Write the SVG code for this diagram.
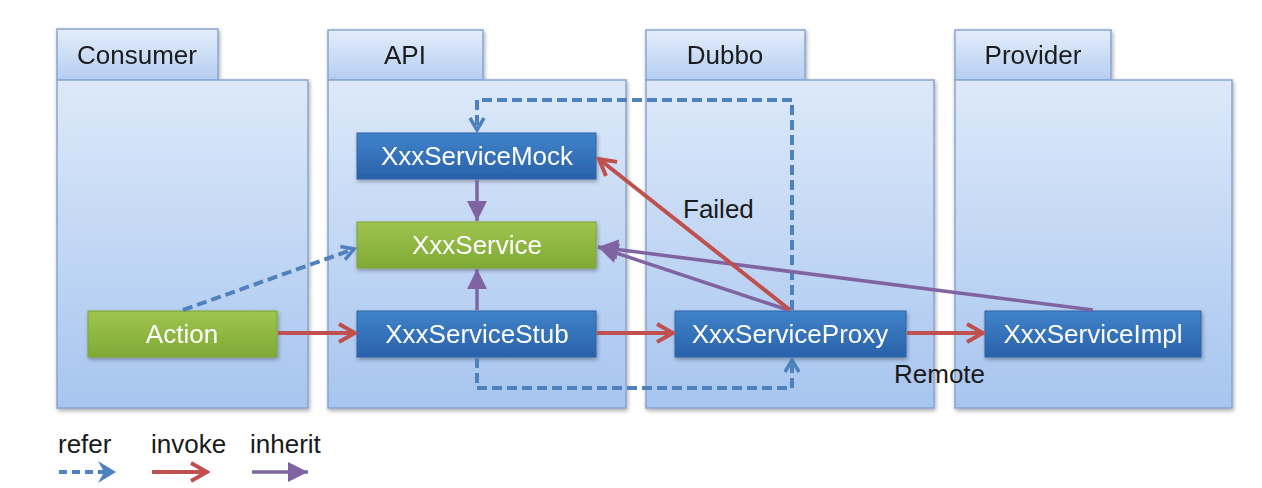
<svg xmlns="http://www.w3.org/2000/svg" width="1262" height="488" viewBox="0 0 1262 488">
<defs>
<style>
text{font-family:"Liberation Sans",Arial,sans-serif;}
.lbl{font-size:26px;fill:#1a1a1a;}
.box{font-size:26px;fill:#ffffff;text-anchor:middle;}
.tab{fill:url(#gTab);stroke:#86a6d0;stroke-width:1.5;}
.body{fill:url(#gBody);stroke:#86a6d0;stroke-width:1.5;}
.blue{fill:url(#gBlue);stroke:#2e64a8;stroke-width:1;}
.green{fill:url(#gGreen);stroke:#7ea535;stroke-width:1;}
.inv{fill:none;stroke:#c0504d;stroke-width:4;}
.inh{fill:none;stroke:#8064a2;stroke-width:3.5;}
.ref{fill:none;stroke:#4f81bd;stroke-width:4;stroke-dasharray:10 5;}
</style>
<linearGradient id="gBody" x1="0" y1="0" x2="0" y2="1">
<stop offset="0" stop-color="#dde9f9"/><stop offset="1" stop-color="#a7c5ef"/>
</linearGradient>
<linearGradient id="gTab" x1="0" y1="0" x2="0" y2="1">
<stop offset="0" stop-color="#e4eefb"/><stop offset="1" stop-color="#b4cdf1"/>
</linearGradient>
<linearGradient id="gBlue" x1="0" y1="0" x2="0" y2="1">
<stop offset="0" stop-color="#4083ca"/><stop offset="1" stop-color="#2a62a9"/>
</linearGradient>
<linearGradient id="gGreen" x1="0" y1="0" x2="0" y2="1">
<stop offset="0" stop-color="#9fc44f"/><stop offset="1" stop-color="#7fa935"/>
</linearGradient>
<filter id="sh" x="-10%" y="-10%" width="125%" height="130%">
<feGaussianBlur in="SourceAlpha" stdDeviation="2"/>
<feOffset dx="1" dy="2" result="b"/>
<feComponentTransfer><feFuncA type="linear" slope="0.35"/></feComponentTransfer>
<feMerge><feMergeNode/><feMergeNode in="SourceGraphic"/></feMerge>
</filter>
<marker id="mRed" markerUnits="userSpaceOnUse" viewBox="0 0 24 24" markerWidth="24" markerHeight="24" refX="21" refY="12" orient="auto">
<path d="M5,3 L21,12 L5,21" fill="none" stroke="#c0504d" stroke-width="4" stroke-linejoin="miter"/>
</marker>
<marker id="mPur" markerUnits="userSpaceOnUse" viewBox="0 0 22 22" markerWidth="22" markerHeight="22" refX="21" refY="11" orient="auto">
<path d="M1,1 L21,11 L1,21 z" fill="#8064a2"/>
</marker>
<marker id="mBlue" markerUnits="userSpaceOnUse" viewBox="0 0 20 20" markerWidth="20" markerHeight="20" refX="17" refY="10" orient="auto">
<path d="M5,3 L17,10 L5,17" fill="none" stroke="#4f81bd" stroke-width="3.5"/>
</marker>
<marker id="mBlueL" markerUnits="userSpaceOnUse" viewBox="0 0 26 26" markerWidth="26" markerHeight="26" refX="10" refY="13" orient="auto">
<path d="M4,2 L22,13 L4,24 L10,13 z" fill="#4f81bd"/>
</marker>
</defs>

<g id="pkg-consumer" filter="url(#sh)">
<rect class="tab" x="57" y="29" width="161" height="51"/>
<rect class="body" x="57" y="80" width="251" height="328"/>
<text class="lbl" x="137" y="64" text-anchor="middle">Consumer</text>
</g>
<g id="pkg-api" filter="url(#sh)">
<rect class="tab" x="328" y="30" width="155" height="50"/>
<rect class="body" x="328" y="80" width="298" height="328"/>
<text class="lbl" x="405" y="64" text-anchor="middle">API</text>
</g>
<g id="pkg-dubbo" filter="url(#sh)">
<rect class="tab" x="646" y="30" width="159" height="50"/>
<rect class="body" x="646" y="80" width="288" height="328"/>
<text class="lbl" x="725" y="64" text-anchor="middle">Dubbo</text>
</g>
<g id="pkg-provider" filter="url(#sh)">
<rect class="tab" x="955" y="30" width="156" height="50"/>
<rect class="body" x="955" y="80" width="277" height="328"/>
<text class="lbl" x="1033" y="64" text-anchor="middle">Provider</text>
</g>

<g id="node-mock" filter="url(#sh)">
<rect class="blue" x="357" y="133" width="239" height="46"/>
<text class="box" x="477" y="165">XxxServiceMock</text>
</g>
<g id="node-service" filter="url(#sh)">
<rect class="green" x="357" y="222" width="239" height="46"/>
<text class="box" x="477" y="254">XxxService</text>
</g>
<g id="node-action" filter="url(#sh)">
<rect class="green" x="88" y="311" width="189" height="46"/>
<text class="box" x="182" y="343">Action</text>
</g>
<g id="node-stub" filter="url(#sh)">
<rect class="blue" x="357" y="311" width="239" height="46"/>
<text class="box" x="477" y="343">XxxServiceStub</text>
</g>
<g id="node-proxy" filter="url(#sh)">
<rect class="blue" x="675" y="311" width="231" height="46"/>
<text class="box" x="790" y="343">XxxServiceProxy</text>
</g>
<g id="node-impl" filter="url(#sh)">
<rect class="blue" x="985" y="311" width="216" height="46"/>
<text class="box" x="1093" y="343">XxxServiceImpl</text>
</g>

<g id="connectors">
<path class="ref" d="M792,310 L792,100 L477,100 L477,130" marker-end="url(#mBlue)"/>
<path class="ref" d="M477,358 L477,388 L792,388 L792,360" marker-end="url(#mBlue)"/>
<path class="ref" d="M183,310 L354,249" marker-end="url(#mBlue)"/>
<path class="inh" d="M477,180 L477,221" marker-end="url(#mPur)"/>
<path class="inh" d="M477,310 L477,269" marker-end="url(#mPur)"/>
<path class="inh" d="M788,310 L598,247" marker-end="url(#mPur)"/>
<path class="inh" d="M1093,310 L598,247" marker-end="url(#mPur)"/>
<path class="inv" d="M790,310 L599,159" marker-end="url(#mRed)"/>
<path class="inv" d="M278,333 L355,333" marker-end="url(#mRed)"/>
<path class="inv" d="M597,333 L673,333" marker-end="url(#mRed)"/>
<path class="inv" d="M907,333 L983,333" marker-end="url(#mRed)"/>
<text class="lbl" x="683" y="218">Failed</text>
<text class="lbl" x="894" y="383">Remote</text>
</g>

<g id="legend">
<text class="lbl" x="58" y="453">refer</text>
<text class="lbl" x="151" y="453">invoke</text>
<text class="lbl" x="250" y="453">inherit</text>
<path d="M59,472 L104,472" fill="none" stroke="#4f81bd" stroke-width="4" stroke-dasharray="8 5" marker-end="url(#mBlueL)"/>
<path class="inv" d="M152,472 L207,472" stroke-width="3" marker-end="url(#mRed)"/>
<path class="inh" d="M252,472 L308,472" stroke-width="3" marker-end="url(#mPur)"/>
</g>
</svg>
